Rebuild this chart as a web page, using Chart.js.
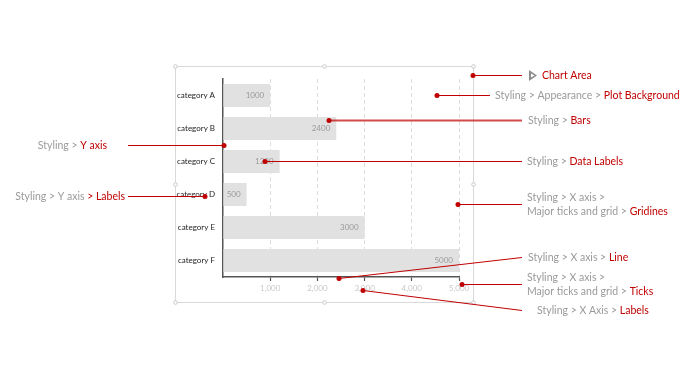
<!DOCTYPE html>
<html>
<head>
<meta charset="utf-8">
<script src="https://cdn.jsdelivr.net/npm/chart.js@4/dist/chart.umd.min.js"></script>
<style>
  html, body { margin: 0; padding: 0; background: #fff; }
  #wrap { width: 688px; height: 386px; }
</style>
</head>
<body>
<div id="wrap"><canvas id="chart-parts" width="688" height="386"></canvas></div>
<script>
const categories = ["category A", "category B", "category C", "category D", "category E", "category F"];
const values = [1000, 2400, 1200, 500, 3000, 5000];
const xTickLabels = ["", "1,000", "2,000", "3,000", "4,000", "5,000"];

const RED = '#c00000';
const GREY = '#9a9a9a';

// callouts around the chart: dot, leader line, text parts [text, isRed]
const callouts = [
    { dot: [473, 75], to: [522, 75], x: 542, lines: [[["Chart Area", true]]], icon: true },
    { dot: [437, 95], to: [490, 95], x: 495, lines: [[["Styling > Appearance > ", false], ["Plot Background", true]]] },
    { dot: [329, 120], to: [522, 120], x: 528, lines: [[["Styling > ", false], ["Bars", true]]], wide: true },
    { dot: [265, 161], to: [522, 161], x: 527, lines: [[["Styling > ", false], ["Data Labels", true]]] },
    { dot: [458, 204], to: [522, 204], x: 527, lines: [[["Styling > X axis >", false]], [["Major ticks and grid > ", false], ["Gridines", true]]] },
    { dot: [339, 278], to: [522, 257], x: 528, lines: [[["Styling > X axis > ", false], ["Line", true]]] },
    { dot: [462, 284], to: [522, 284], x: 527, lines: [[["Styling > X axis >", false]], [["Major ticks and grid > ", false], ["Ticks", true]]] },
    { dot: [363, 290], to: [522, 310], x: 537, lines: [[["Styling > X Axis > ", false], ["Labels", true]]] },
    { dot: [224, 145], to: [128, 145], right: 107, lines: [[["Styling > ", false], ["Y axis", true]]] },
    { dot: [205, 196], to: [128, 196], right: 125, lines: [[["Styling > Y axis ", false], ["> Labels", true]]] }
];

const calloutFont = '10.5px Lato, "Open Sans", sans-serif';

function drawParts(ctx, parts, x, y, alignRight) {
    ctx.font = calloutFont;
    let total = 0;
    parts.forEach(p => { total += ctx.measureText(p[0]).width; });
    let cx = alignRight ? x - total : x;
    parts.forEach(p => {
        ctx.fillStyle = p[1] ? RED : GREY;
        ctx.fillText(p[0], cx, y);
        cx += ctx.measureText(p[0]).width;
    });
}

const chartFrame = {
    id: 'chartFrame',
    beforeDraw(chart) {
        const ctx = chart.ctx;
        ctx.save();
        ctx.strokeStyle = '#d9d9d9';
        ctx.lineWidth = 1;
        ctx.strokeRect(175.5, 66.5, 298, 236);
        const handles = [[175, 66], [324, 66], [473, 66], [175, 184], [473, 184], [175, 302], [324, 302], [473, 302]];
        handles.forEach(h => {
            ctx.beginPath();
            ctx.arc(h[0] + 0.5, h[1] + 0.5, 1.8, 0, Math.PI * 2);
            ctx.fillStyle = '#fff';
            ctx.fill();
            ctx.strokeStyle = '#c8c8c8';
            ctx.stroke();
        });
        ctx.restore();
    }
};

const barLabels = {
    id: 'barLabels',
    afterDatasetsDraw(chart) {
        const ctx = chart.ctx;
        const meta = chart.getDatasetMeta(0);
        ctx.save();
        ctx.font = '8px Lato, sans-serif';
        ctx.fillStyle = '#9a9a9a';
        ctx.textAlign = 'right';
        ctx.textBaseline = 'middle';
        meta.data.forEach((bar, i) => {
            ctx.fillText(String(values[i]), bar.x - 6, bar.y);
        });
        ctx.restore();
    }
};

const calloutPlugin = {
    id: 'callouts',
    afterDraw(chart) {
        const ctx = chart.ctx;
        ctx.save();
        ctx.textBaseline = 'middle';
        callouts.forEach(c => {
            ctx.strokeStyle = c.wide ? 'rgba(192,0,0,0.7)' : RED;
            ctx.lineWidth = c.wide ? 2 : 1;
            ctx.beginPath();
            ctx.moveTo(c.dot[0], c.dot[1] + 0.5);
            ctx.lineTo(c.to[0], c.to[1] + 0.5);
            ctx.stroke();
            ctx.fillStyle = RED;
            ctx.beginPath();
            ctx.arc(c.dot[0], c.dot[1] + 0.5, 2.5, 0, Math.PI * 2);
            ctx.fill();
            if (c.icon) {
                ctx.fillStyle = '#8c8c8c';
                ctx.beginPath();
                ctx.moveTo(529, 70);
                ctx.lineTo(537, 75.5);
                ctx.lineTo(529, 81);
                ctx.closePath();
                ctx.fill();
                ctx.fillStyle = '#fff';
                ctx.beginPath();
                ctx.moveTo(531, 73.5);
                ctx.lineTo(534.5, 75.5);
                ctx.lineTo(531, 77.5);
                ctx.closePath();
                ctx.fill();
            }
            const n = c.lines.length;
            c.lines.forEach((parts, i) => {
                const y = c.to[1] + 0.5 + (i - (n - 1) / 2) * 14;
                if (c.right !== undefined) {
                    drawParts(ctx, parts, c.right, y, true);
                } else {
                    drawParts(ctx, parts, c.x, y, false);
                }
            });
        });
        ctx.restore();
    }
};

new Chart(document.getElementById('chart-parts'), {
    type: 'bar',
    data: {
        labels: categories,
        datasets: [{
            data: values,
            backgroundColor: '#e1e1e1',
            borderWidth: 0,
            categoryPercentage: 0.7,
            barPercentage: 1
        }]
    },
    options: {
        indexAxis: 'y',
        responsive: false,
        animation: false,
        layout: { padding: { left: 175, top: 79, right: 229, bottom: 87 } },
        plugins: {
            legend: { display: false },
            tooltip: { enabled: false }
        },
        scales: {
            x: {
                min: 0,
                max: 5000,
                afterFit: scale => { scale.height = 22; },
                border: { display: true, color: '#555', width: 1.5, dash: [4, 3] },
                grid: {
                    color: c => c.index === 0 ? 'rgba(0,0,0,0)' : '#dcdcdc',
                    lineWidth: 1,
                    drawTicks: true,
                    tickLength: 4,
                    tickColor: c => c.index === 0 ? 'rgba(0,0,0,0)' : '#555',
                    tickWidth: 1.2
                },
                ticks: {
                    stepSize: 1000,
                    padding: 3,
                    color: '#c8c8c8',
                    font: { family: 'Lato', size: 8 },
                    callback: (v, i) => xTickLabels[i]
                }
            },
            y: {
                afterFit: scale => { scale.width = 48; },
                border: { display: true, color: '#555', width: 1.5 },
                grid: { display: false, drawTicks: false },
                ticks: {
                    padding: 8,
                    color: '#222',
                    font: { family: 'Lato', size: 8 }
                }
            }
        }
    },
    plugins: [chartFrame, barLabels, calloutPlugin]
});
</script>
</body>
</html>
